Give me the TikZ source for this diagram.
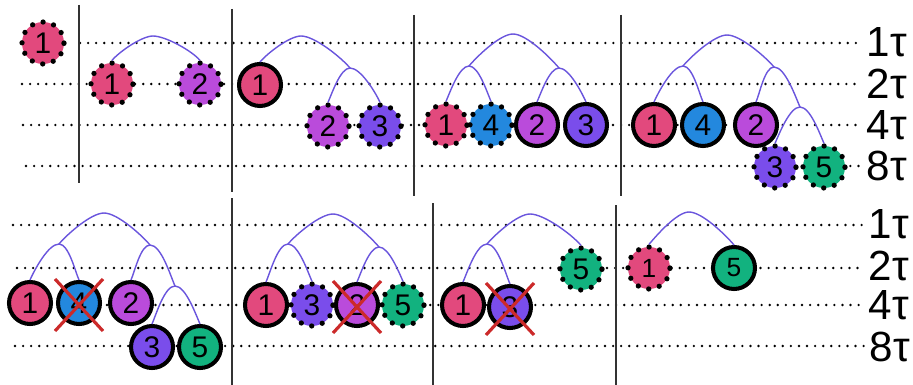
\documentclass[tikz,border=0pt]{standalone}
\usepackage{fontspec}
\setmainfont{Liberation Sans}
\usepackage{tikz}
\definecolor{jobOne}{HTML}{E2497D}
\definecolor{jobTwo}{HTML}{BA4BDB}
\definecolor{jobThree}{HTML}{7A4DEB}
\definecolor{jobFour}{HTML}{2388DE}
\definecolor{jobFive}{HTML}{12B27F}
\definecolor{treeLine}{HTML}{6A55DD}
\definecolor{crossRed}{HTML}{CC2A2A}
\def\nodeSize{0.84}
\newcommand{\tent}[4][66]{%
% #1 = rise angle, #2 = left child, #3 = peak, #4 = right child
\pgfmathsetmacro{\fallAngle}{180-#1}
\draw[tree] (#2) to[out=#1,in=180,looseness=0.6] (#3) to[out=0,in=\fallAngle,looseness=0.6] (#4);
}
\newcommand{\crossout}[1]{%
% #1 = node to strike out
\draw[cross] ([shift={(-24,24)}]#1.center) -- ([shift={(24,-28)}]#1.center);
\draw[cross] ([shift={(24,24)}]#1.center) -- ([shift={(-24,-28)}]#1.center);
}

\begin{document}
\begin{tikzpicture}[
    x=0.02cm, y=0.02cm,
    every node/.style={font=\fontsize{17}{20}\selectfont},
    job/.style={circle, minimum size=\nodeSize cm, inner sep=0pt},
    kept/.style={job, draw=black, line width=2.3pt},
    pend/.style={job, draw=black, line width=3pt, line cap=round, dash pattern=on 0pt off 6.23pt},
    tree/.style={treeLine, line width=0.8pt},
    grid/.style={line width=1.5pt, line cap=round, dash pattern=on 0pt off 4.6pt},
    sep/.style={line width=1pt, black!80},
    cross/.style={crossRed, line width=1.8pt},
    level/.style={font=\fontsize{24}{28}\selectfont}
]
\fill[white] (0,0) rectangle (913,-385);
\useasboundingbox (0,0) rectangle (913,-385);

% dotted time levels, upper row
\draw[grid] (80,-43) -- (860,-43);
\draw[grid] (22,-84) -- (862,-84);
\draw[grid] (23,-125) -- (860,-125);
\draw[grid] (26,-166) -- (865,-166);
% dotted time levels, lower row
\draw[grid] (13,-225) -- (864,-225);
\draw[grid] (17,-268) -- (860,-268);
\draw[grid] (10,-305) -- (864,-305);
\draw[grid] (15,-346) -- (866,-346);

% separators
\draw[sep] (79,-5) -- (79,-183);
\draw[sep] (232,-9) -- (232,-192);
\draw[sep] (414,-15) -- (414,-196);
\draw[sep] (621,-15) -- (621,-196);
\draw[sep] (232,-198) -- (232,-385);
\draw[sep] (433,-203) -- (433,-385);
\draw[sep] (616,-205) -- (616,-385);

% level labels
\node[level] (top1) at (887,-42) {1τ};
\node[level] (top2) at (887,-84) {2τ};
\node[level] (top4) at (887,-125) {4τ};
\node[level] (top8) at (887,-166) {8τ};
\node[level] (low1) at (889,-224) {1τ};
\node[level] (low2) at (889,-266) {2τ};
\node[level] (low4) at (889,-305) {4τ};
\node[level] (low8) at (890,-347) {8τ};

% panel a
\node[pend, fill=jobOne] (a1) at (43,-43) {1};

% panel b
\node[pend, fill=jobOne] (b1) at (112,-84) {1};
\node[pend, fill=jobTwo] (b2) at (200,-84) {2};
\coordinate (bRoot) at (153,-36);
\tent[50]{b1.north}{bRoot}{b2.north}

% panel c
\node[kept, fill=jobOne] (c1) at (260,-85) {1};
\node[pend, fill=jobTwo] (c2) at (328,-126) {2};
\node[pend, fill=jobThree] (c3) at (380,-126) {3};
\coordinate (cRoot) at (301,-36);
\coordinate (cRight) at (350,-68);
\tent[50]{c1.north}{cRoot}{cRight}
\tent{c2.north}{cRight}{c3.north}

% panel d
\node[pend, fill=jobOne] (d1) at (446,-125) {1};
\node[pend, fill=jobFour] (d4) at (491,-125) {4};
\node[kept, fill=jobTwo] (d2) at (537,-125) {2};
\node[kept, fill=jobThree] (d3) at (586,-125) {3};
\coordinate (dRoot) at (513,-34);
\coordinate (dLeft) at (469,-66);
\coordinate (dRight) at (559,-68);
\tent[50]{dLeft}{dRoot}{dRight}
\tent{d1.north}{dLeft}{d4.north}
\tent{d2.north}{dRight}{d3.north}

% panel e
\node[kept, fill=jobOne] (e1) at (654,-125) {1};
\node[kept, fill=jobFour] (e4) at (703,-125) {4};
\node[kept, fill=jobTwo] (e2) at (756,-125) {2};
\node[pend, fill=jobThree] (e3) at (775,-167) {3};
\node[pend, fill=jobFive] (e5) at (824,-167) {5};
\coordinate (eRoot) at (727,-35);
\coordinate (eLeft) at (683,-66);
\coordinate (eRight) at (774,-67);
\coordinate (eLow) at (800,-107);
\tent[50]{eLeft}{eRoot}{eRight}
\tent{e1.north}{eLeft}{e4.north}
\tent{e2.north}{eRight}{eLow}
\tent{e3.north}{eLow}{e5.north}

% panel f
\node[kept, fill=jobOne] (f1) at (30,-303) {1};
\node[kept, fill=jobFour] (f4) at (79,-303) {4};
\node[kept, fill=jobTwo] (f2) at (131,-303) {2};
\node[kept, fill=jobThree] (f3) at (152,-347) {3};
\node[kept, fill=jobFive] (f5) at (200,-347) {5};
\coordinate (fRoot) at (104,-213);
\coordinate (fLeft) at (59,-244);
\coordinate (fRight) at (150,-245);
\coordinate (fLow) at (175,-286);
\tent[50]{fLeft}{fRoot}{fRight}
\tent{f1.north}{fLeft}{f4.north}
\tent{f2.north}{fRight}{fLow}
\tent{f3.north}{fLow}{f5.north}
\crossout{f4}

% panel g
\node[kept, fill=jobOne] (g1) at (266,-305) {1};
\node[pend, fill=jobThree] (g3) at (312,-305) {3};
\node[kept, fill=jobTwo] (g2) at (357,-305) {2};
\node[pend, fill=jobFive] (g5) at (403,-305) {5};
\coordinate (gRoot) at (333,-214);
\coordinate (gLeft) at (288,-244);
\coordinate (gRight) at (379,-247);
\tent[50]{gLeft}{gRoot}{gRight}
\tent{g1.north}{gLeft}{g3.north}
\tent{g2.north}{gRight}{g5.north}
\crossout{g2}

% panel h
\node[kept, fill=jobOne] (h1) at (463,-305) {1};
\node[kept, fill=jobThree] (h3) at (510,-307) {3};
\node[pend, fill=jobFive] (h5) at (581,-269) {5};
\coordinate (hRoot) at (530,-214);
\coordinate (hLeft) at (487,-244);
\tent[50]{hLeft}{hRoot}{h5.north}
\tent{h1.north}{hLeft}{h3.north}
\crossout{h3}

% panel i
\begin{scope}[every node/.style={font=\fontsize{15}{18}\selectfont}]
\node[pend, fill=jobOne] (i1) at (649,-268) {1};
\node[kept, fill=jobFive] (i5) at (734,-268) {5};
\end{scope}
\coordinate (iRoot) at (689,-212);
\tent[50]{i1.north}{iRoot}{i5.north}
\end{tikzpicture}
\end{document}
